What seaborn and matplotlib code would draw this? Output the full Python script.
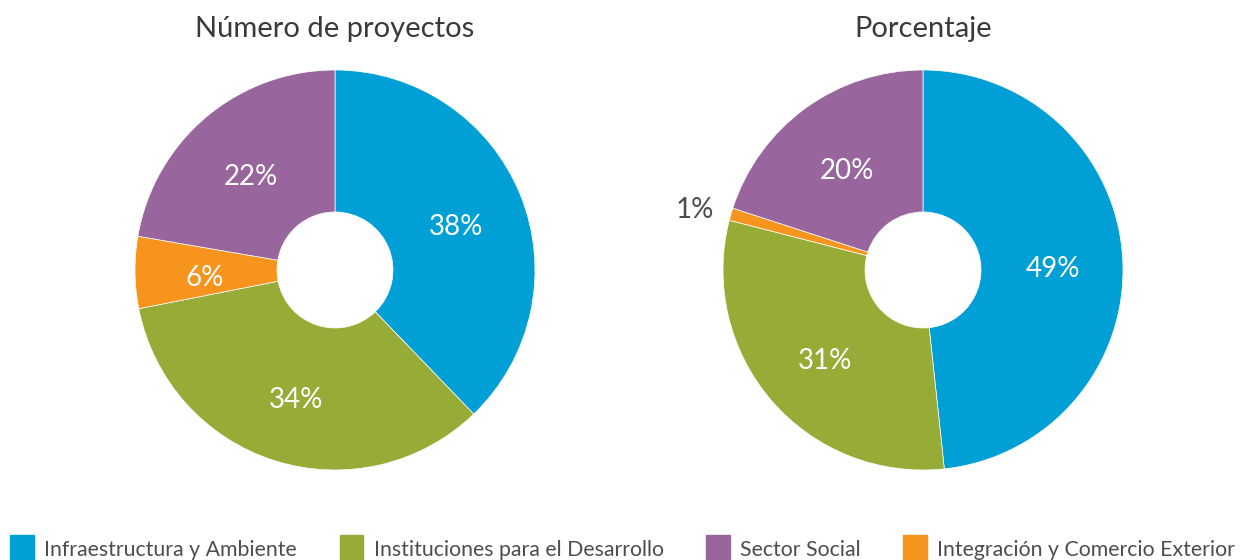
import matplotlib
matplotlib.use("Agg")
import matplotlib.pyplot as plt
import matplotlib.patches as mpatches
import numpy as np
import seaborn as sns

categories = ["Infraestructura y Ambiente", "Instituciones para el Desarrollo",
              "Integración y Comercio Exterior", "Sector Social"]
legend_order = [0, 1, 3, 2]

proyectos = [37.8, 34.1, 5.8, 22.3]
proyectos_labels = ["38%", "34%", "6%", "22%"]

porcentaje = [48.3, 30.7, 1.0, 20.0]
porcentaje_labels = ["49%", "31%", "1%", "20%"]

colors = ["#009fd6", "#97ac37", "#f7941e", "#98669d"]

sns.set_theme(style="white")
plt.rcParams["font.family"] = ["Lato", "DejaVu Sans"]

fig = plt.figure(figsize=(12.48, 5.6), dpi=100)
W, H = 1248, 560


def donut(cx, cy, values, labels, title):
    size = 420
    ax = fig.add_axes([(cx - size / 2) / W, (H - cy - size / 2) / H, size / W, size / H])
    wedges, _ = ax.pie(values, colors=colors, startangle=90, counterclock=False,
                       radius=1.0, wedgeprops=dict(width=0.71, edgecolor="white", linewidth=0.5))
    for w, lab, v in zip(wedges, labels, values):
        ang = np.deg2rad((w.theta1 + w.theta2) / 2)
        if v < 3:
            r, col = 1.19, "#4d4d4d"
        else:
            r, col = 0.65, "white"
        ax.text(r * np.cos(ang), r * np.sin(ang) - 0.03, lab, ha="center", va="center",
                fontsize=20, color=col)
    ax.set_xlim(-1.05, 1.05)
    ax.set_ylim(-1.05, 1.05)
    ax.set_aspect("equal")
    ax.axis("off")
    fig.text(cx / W, 1 - 29 / H, title, ha="center", va="center", fontsize=21, color="#3a3a3a")
    return ax


donut(335, 270, proyectos, proyectos_labels, "Número de proyectos")
donut(923, 270, porcentaje, porcentaje_labels, "Porcentaje")

handles = [mpatches.Patch(color=colors[i], label=categories[i]) for i in legend_order]
fig.legend(handles=handles, loc="center", bbox_to_anchor=(0.499, 1 - 549 / H), ncol=4,
           frameon=False, fontsize=15.3, handlelength=1.1, handleheight=1.6,
           handletextpad=0.5, columnspacing=2.0, labelcolor="#4d4d4d")

fig.savefig("out.png", dpi=100, facecolor="white")
